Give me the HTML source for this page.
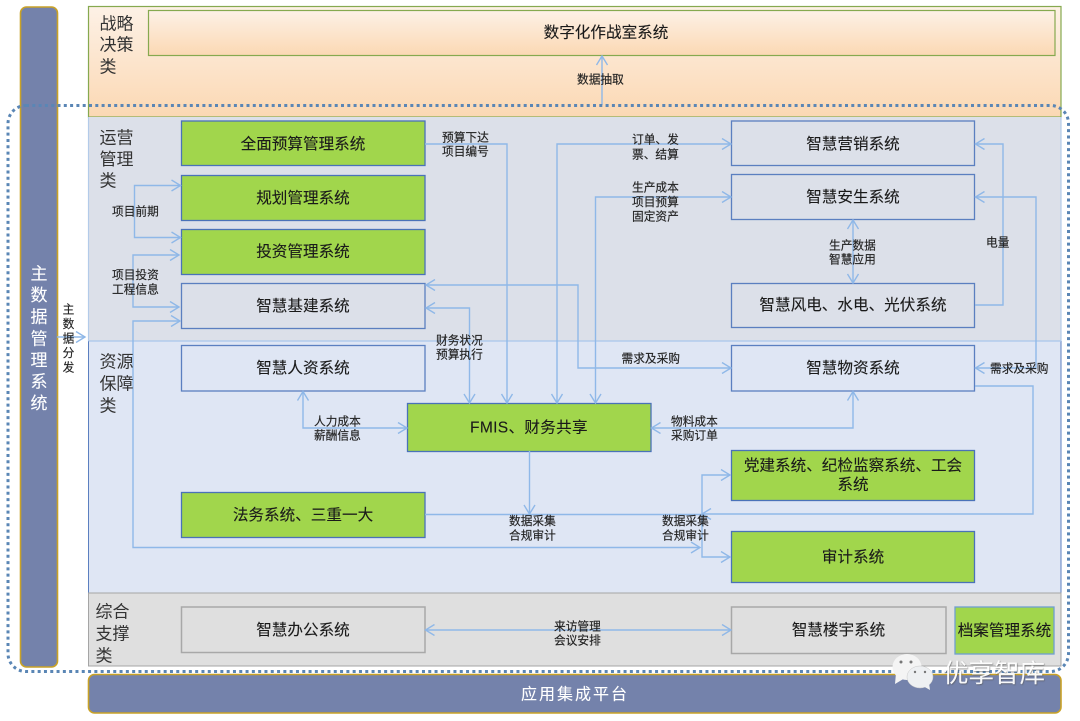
<!DOCTYPE html>
<html lang="zh"><head><meta charset="utf-8"><title>系统架构图</title>
<style>
html,body{margin:0;padding:0;background:#fff;width:1080px;height:721px;overflow:hidden}
svg{display:block;filter:blur(.35px)}
text{font-family:"Liberation Sans","Noto Sans CJK SC",sans-serif;fill:#222;dominant-baseline:central;transform:translateY(.8px)}
.s{font-size:11.7px;fill:#222;stroke:#222;stroke-width:.15}
.b{font-size:15.6px;text-anchor:middle;fill:#1a1a1a;stroke:#1a1a1a;stroke-width:.12}
.c{font-size:17px;fill:#333}
.w{font-size:17px;fill:#fff;text-anchor:middle;stroke:#fff;stroke-width:.1}
.g{fill:#a1d64c;stroke:#4a72b8;stroke-width:1.3}
.n{fill:none;stroke:#5b7fc0;stroke-width:1.3}
.y{fill:#dfdfdf;stroke:#a8a8a8;stroke-width:1.5}
.l{fill:none;stroke:#8fb8e8;stroke-width:1.4}
</style></head><body>
<svg width="1080" height="721" viewBox="0 0 1080 721" xmlns="http://www.w3.org/2000/svg">
<defs>
<linearGradient id="o" x1="0" y1="0" x2="0" y2="1"><stop offset="0" stop-color="#fdf1e6"/><stop offset="1" stop-color="#fbd8b3"/></linearGradient>
<marker id="a" markerUnits="userSpaceOnUse" markerWidth="12" markerHeight="12" refX="10" refY="6" orient="auto-start-reverse"><path d="M1,0.5 L10,6 L1,11.5" fill="none" stroke="#8fb8e8" stroke-width="1.4"/></marker>
<filter id="sh" x="-10%" y="-20%" width="120%" height="140%"><feDropShadow dx="0.6" dy="0.8" stdDeviation="0.5" flood-color="#555" flood-opacity=".8"/></filter>
</defs>

<rect x="20.5" y="7" width="37" height="660" rx="6" fill="#7482ab" stroke="#c9a227" stroke-width="1.6"/>
<rect x="88.5" y="6.5" width="972.5" height="110.5" fill="url(#o)" stroke="#86a94f" stroke-width="1.2"/>
<rect x="148.5" y="10.5" width="906.5" height="45" fill="url(#o)" stroke="#86a94f" stroke-width="1.2"/>
<rect x="88.5" y="117" width="972.5" height="224" fill="#dce0e9"/>
<rect x="88.5" y="341" width="972.5" height="252" fill="#dfe6f4"/>
<path d="M88.5,117 V341 M1061,117 V341" stroke="#b3cbe9" stroke-width="1.2" fill="none"/>
<path d="M88.5,341 V593 M1061,341 V593" stroke="#5b7fc0" stroke-width="1" fill="none"/>
<path d="M88.5,341 H1061" stroke="#a9c6ec" stroke-width="1.2" fill="none"/>
<rect x="88.5" y="593" width="972.5" height="73" fill="#dfdfdf" stroke="#a5a5a5" stroke-width="1"/>
<rect x="88.5" y="674.5" width="972.5" height="38.5" rx="6" fill="#7482ab" stroke="#c9a227" stroke-width="1.6"/>

<rect class="g" x="181.5" y="121" width="243.5" height="44.5"/>
<rect class="g" x="181.5" y="175.5" width="243.5" height="45"/>
<rect class="g" x="181.5" y="229.5" width="243.5" height="45"/>
<rect class="n" x="181.5" y="283.5" width="243.5" height="45"/>
<rect class="n" x="181.5" y="345.5" width="243.5" height="45.5"/>
<rect class="g" x="181.5" y="492.5" width="243.5" height="45"/>
<rect class="g" x="407.5" y="403.5" width="243.5" height="48"/>
<rect class="n" x="731.5" y="121" width="243" height="44.5"/>
<rect class="n" x="731.5" y="174.5" width="243" height="45"/>
<rect class="n" x="731.5" y="283.5" width="243" height="44"/>
<rect class="n" x="731.5" y="345.5" width="243" height="45.5"/>
<rect class="g" x="731.5" y="450.5" width="243" height="50"/>
<rect class="g" x="731.5" y="531.5" width="243" height="51"/>
<rect class="y" x="181.5" y="607" width="243.5" height="45.5"/>
<rect class="y" x="731.5" y="607" width="214.5" height="46.5"/>
<rect x="955" y="607" width="99" height="47" fill="#a1d64c" stroke="#6f9fd0" stroke-width="1.3"/>

<path class="l" d="M602,105 V56" marker-end="url(#a)"/>
<path class="l" d="M425,144 H507 V403" marker-end="url(#a)"/>
<path class="l" d="M426,285 H578 V368 H731" marker-start="url(#a)" marker-end="url(#a)"/>
<path class="l" d="M426,308 H469.5 V403" marker-start="url(#a)" marker-end="url(#a)"/>
<path class="l" d="M557,403 V144 H731" marker-start="url(#a)" marker-end="url(#a)"/>
<path class="l" d="M595.5,403 V197 H731" marker-start="url(#a)" marker-end="url(#a)"/>
<path class="l" d="M853,220 V283" marker-start="url(#a)" marker-end="url(#a)"/>
<path class="l" d="M975,305 H1003 V144 H975.5" marker-end="url(#a)"/>
<path class="l" d="M975.5,197 H1036 V368 H975.5" marker-start="url(#a)" marker-end="url(#a)"/>
<path class="l" d="M975,386 H1033 V514 H702" marker-end="url(#a)"/>
<path class="l" d="M730,475 H702 V557 H730" marker-start="url(#a)" marker-end="url(#a)"/>
<path class="l" d="M425,514.5 H702"/>
<path class="l" d="M529.5,451 V514" marker-end="url(#a)"/>
<path class="l" d="M180,321 H133 V547.5 H700" marker-start="url(#a)" marker-end="url(#a)"/>
<path class="l" d="M180.5,185.5 H134.5 V237.5 H180.5" marker-start="url(#a)" marker-end="url(#a)"/>
<path class="l" d="M179,255 H133 V307 H179" marker-start="url(#a)" marker-end="url(#a)"/>
<path class="l" d="M303,391.5 V428 H407" marker-start="url(#a)" marker-end="url(#a)"/>
<path class="l" d="M651.5,428 H853 V391.5" marker-start="url(#a)" marker-end="url(#a)"/>
<path class="l" d="M425.5,630 H731" marker-start="url(#a)" marker-end="url(#a)"/>
<path class="l" d="M57,337 H85" marker-end="url(#a)"/>

<rect x="8" y="105.5" width="1060.5" height="566" rx="18" fill="none" stroke="#5a86b5" stroke-width="3" stroke-dasharray="3 3.3"/>

<g>
<text class="c" x="99.5" y="23">战略</text><text class="c" x="99.5" y="44">决策</text><text class="c" x="99.5" y="66">类</text>
<text class="c" x="99.5" y="137">运营</text><text class="c" x="99.5" y="158.500">管理</text><text class="c" x="99.5" y="180">类</text>
<text class="c" x="99.5" y="361">资源</text><text class="c" x="99.5" y="383">保障</text><text class="c" x="99.5" y="405">类</text>
<text class="c" x="95.5" y="611">综合</text><text class="c" x="95.5" y="633">支撑</text><text class="c" x="95.5" y="655">类</text>
</g>

<text class="w" x="39" y="273">主</text><text class="w" x="39" y="294.500">数</text><text class="w" x="39" y="316">据</text><text class="w" x="39" y="338">管</text><text class="w" x="39" y="359.500">理</text><text class="w" x="39" y="381">系</text><text class="w" x="39" y="402.500">统</text>
<text class="w" x="575" y="694" style="font-size:16px;letter-spacing:2px">应用集成平台</text>

<text class="b" x="606" y="32">数字化作战室系统</text>
<text class="b" x="303" y="143.500">全面预算管理系统</text>
<text class="b" x="303" y="197.500">规划管理系统</text>
<text class="b" x="303" y="251">投资管理系统</text>
<text class="b" x="303" y="305.500">智慧基建系统</text>
<text class="b" x="303" y="367.500">智慧人资系统</text>
<text class="b" x="303" y="514.500">法务系统、三重一大</text>
<text class="b" x="529" y="427" style="letter-spacing:.3px">FMIS、财务共享</text>
<text class="b" x="853" y="143.500">智慧营销系统</text>
<text class="b" x="853" y="196.500">智慧安生系统</text>
<text class="b" x="853" y="304.500">智慧风电、水电、光伏系统</text>
<text class="b" x="853" y="367.500">智慧物资系统</text>
<text class="b" x="853" y="465">党建系统、纪检监察系统、工会</text>
<text class="b" x="853" y="484">系统</text>
<text class="b" x="853" y="556.500">审计系统</text>
<text class="b" x="303" y="629.500">智慧办公系统</text>
<text class="b" x="838.500" y="629.500">智慧楼宇系统</text>
<text class="b" x="1004.500" y="630">档案管理系统</text>

<text class="s" x="577" y="79">数据抽取</text>
<text class="s" x="442" y="137">预算下达</text><text class="s" x="442" y="151">项目编号</text>
<text class="s" x="436" y="340">财务状况</text><text class="s" x="436" y="354">预算执行</text>
<text class="s" x="632" y="139">订单、发</text><text class="s" x="632" y="154">票、结算</text>
<text class="s" x="632" y="187">生产成本</text><text class="s" x="632" y="201.500">项目预算</text><text class="s" x="632" y="216">固定资产</text>
<text class="s" x="829" y="245">生产数据</text><text class="s" x="829" y="259">智慧应用</text>
<text class="s" x="986" y="242">电量</text>
<text class="s" x="621.500" y="358">需求及采购</text>
<text class="s" x="990" y="368">需求及采购</text>
<text class="s" x="314" y="421">人力成本</text><text class="s" x="314" y="435">薪酬信息</text>
<text class="s" x="671" y="421">物料成本</text><text class="s" x="671" y="435">采购订单</text>
<text class="s" x="509" y="520.500">数据采集</text><text class="s" x="509" y="535">合规审计</text>
<text class="s" x="662" y="520.500">数据采集</text><text class="s" x="662" y="535">合规审计</text>
<text class="s" x="554" y="626">来访管理</text><text class="s" x="554" y="640">会议安排</text>
<text class="s" x="112" y="211">项目前期</text>
<text class="s" x="112" y="274.500">项目投资</text><text class="s" x="112" y="289">工程信息</text>
<g text-anchor="middle"><text class="s" x="68.500" y="309">主</text><text class="s" x="68.500" y="323.500">数</text><text class="s" x="68.500" y="338">据</text><text class="s" x="68.500" y="352.500">分</text><text class="s" x="68.500" y="367">发</text></g>

<g fill="#f4f4f4">
<ellipse cx="907" cy="667" rx="14.500" ry="13"/>
<path d="M896,673 L895,684 L905,678z"/>
</g>
<g fill="#eef0f2" stroke="#c9c9c9" stroke-width=".5">
<ellipse cx="920" cy="677" rx="13" ry="11"/>
</g>
<path d="M923,686 L930,690 L929,683z" fill="#eef0f2"/>
<g fill="#777"><circle cx="901" cy="662" r="1.500"/><circle cx="911" cy="662" r="1.500"/><circle cx="915" cy="672" r="1.200"/><circle cx="925" cy="672" r="1.200"/></g>
<text x="943" y="673" filter="url(#sh)" style="font-size:25.5px;fill:#fff;opacity:.95">优享智库</text>
</svg>
</body></html>
